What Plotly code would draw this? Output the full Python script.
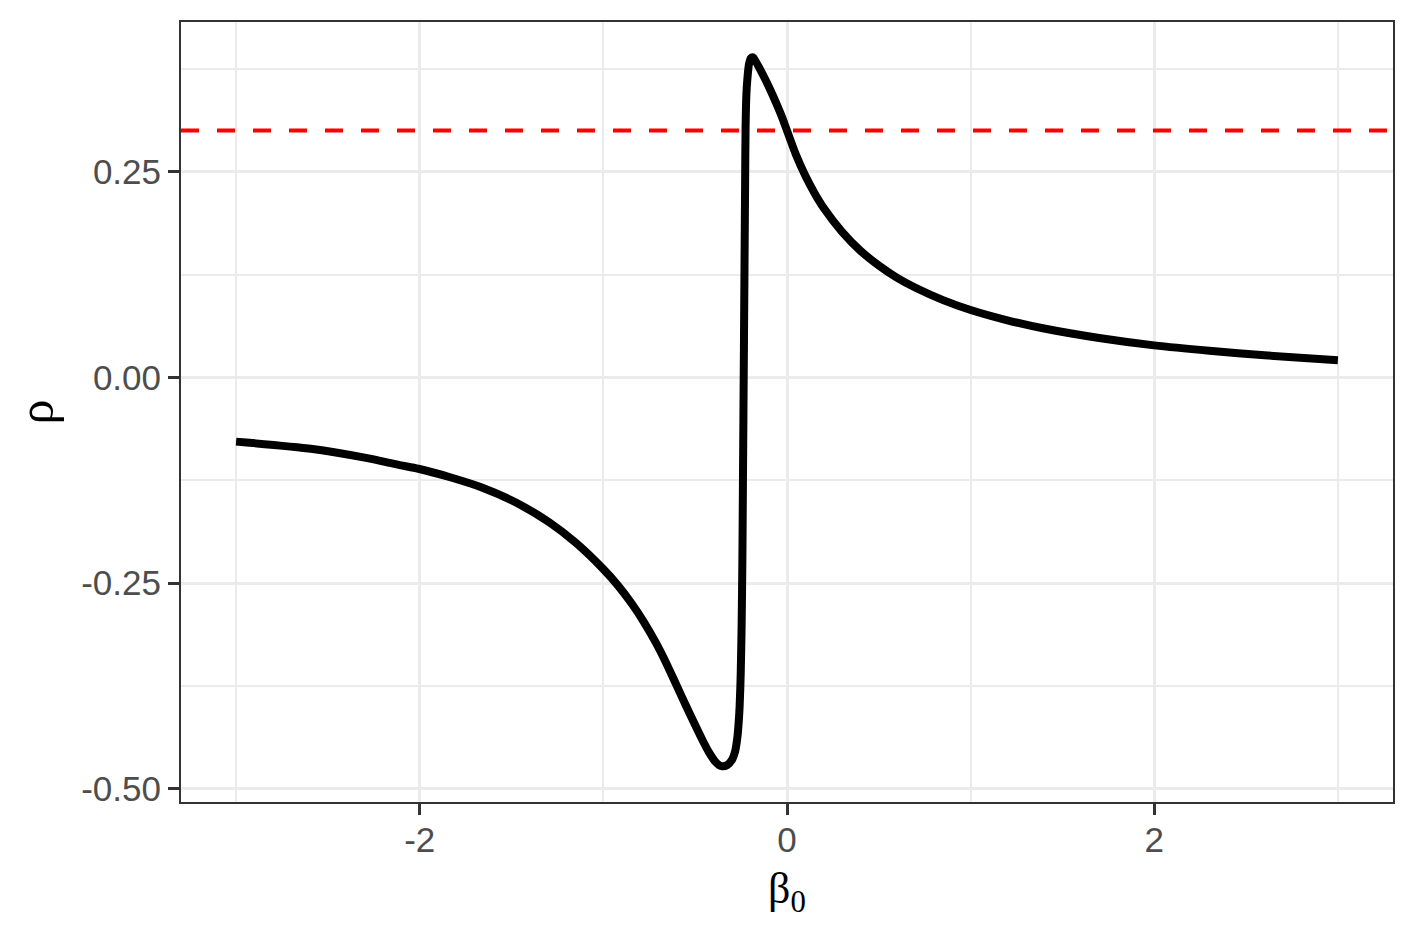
import plotly.graph_objects as go

# curve data (beta_0 vs rho)
beta0 = [-3.0, -2.583, -2.3, -2.109, -2.007, -1.839, -1.658, -1.476, -1.295, -1.15,
         -1.0, -0.92, -0.842, -0.78, -0.715, -0.66, -0.606, -0.55, -0.497, -0.46,
         -0.424, -0.39, -0.357, -0.325, -0.297, -0.283, -0.270, -0.264, -0.258, -0.252,
         -0.247, -0.243, -0.240, -0.237, -0.234, -0.231, -0.228, -0.2255, -0.221,
         -0.216, -0.207, -0.197, -0.185, -0.17, -0.15, -0.12, -0.09, -0.06, -0.03,
         0.0, 0.05, 0.1, 0.15, 0.2, 0.3, 0.4, 0.5, 0.6, 0.7, 0.85, 1.0, 1.2, 1.4, 1.7,
         2.0, 2.3, 2.6, 3.0]
rho = [-0.078, -0.087, -0.0975, -0.1065, -0.111, -0.121, -0.134, -0.152, -0.176, -0.201,
       -0.233, -0.253, -0.276, -0.297, -0.322, -0.346, -0.372, -0.399, -0.424, -0.441,
       -0.456, -0.467, -0.4725, -0.471, -0.4636, -0.455, -0.437, -0.422, -0.400, -0.360,
       -0.300, -0.221, -0.129, -0.037, 0.055, 0.147, 0.239, 0.305, 0.345,
       0.362, 0.381, 0.388, 0.389, 0.384, 0.376, 0.363, 0.349, 0.334, 0.318,
       0.300, 0.270, 0.245, 0.224, 0.206, 0.177, 0.154, 0.136, 0.121, 0.109, 0.094,
       0.082, 0.0695, 0.0595, 0.048, 0.039, 0.0324, 0.0269, 0.021]
threshold = 0.3

x_ticks = [-2, 0, 2]
x_ticktext = ["-2", "0", "2"]
y_ticks = [-0.5, -0.25, 0.0, 0.25]
y_ticktext = ["-0.50", "-0.25", "0.00", "0.25"]

fig = go.Figure()
fig.add_trace(go.Scatter(x=beta0, y=rho, mode="lines",
                         line=dict(color="black", width=8, shape="spline", smoothing=0.8),
                         showlegend=False, hoverinfo="skip"))
fig.add_hline(y=threshold, line=dict(color="#FF0000", width=4, dash="18px,18px"))

tickfont = dict(family="Liberation Sans, Arial, sans-serif", size=35, color="#4D4D4D")
axis_common = dict(
    showgrid=True, gridcolor="#EBEBEB", gridwidth=3,
    zeroline=False, showline=True, mirror=True, linecolor="#333333", linewidth=2,
    ticks="outside", ticklen=11, tickwidth=3, tickcolor="#333333",
    tickfont=tickfont, automargin=False,
)
title_font = dict(family="Liberation Serif, Times New Roman, serif", size=44, color="black")
ytitle_font = dict(family="Liberation Serif, Times New Roman, serif", size=50, color="black")

# page body has an 8px margin, so the margins are shifted to compensate
fig.update_layout(
    width=1417, height=944,
    margin=dict(l=173, r=32, t=14, b=150),
    paper_bgcolor="white", plot_bgcolor="white",
    xaxis=dict(range=[-3.3, 3.3], tickvals=x_ticks, ticktext=x_ticktext,
               ticklabelstandoff=-5,
               minor=dict(dtick=1, tick0=1, showgrid=True, gridcolor="#EBEBEB", gridwidth=1.5,
                          ticks=""),
               title=dict(text="β<sub>0</sub>", standoff=14, font=title_font),
               **axis_common),
    yaxis=dict(range=[-0.516, 0.432], tickvals=y_ticks, ticktext=y_ticktext,
               minor=dict(dtick=0.125, tick0=0, showgrid=True, gridcolor="#EBEBEB", gridwidth=1.5,
                          ticks=""),
               title=dict(text="ρ", standoff=30, font=ytitle_font),
               **axis_common),
)

fig.write_html("out.html")
